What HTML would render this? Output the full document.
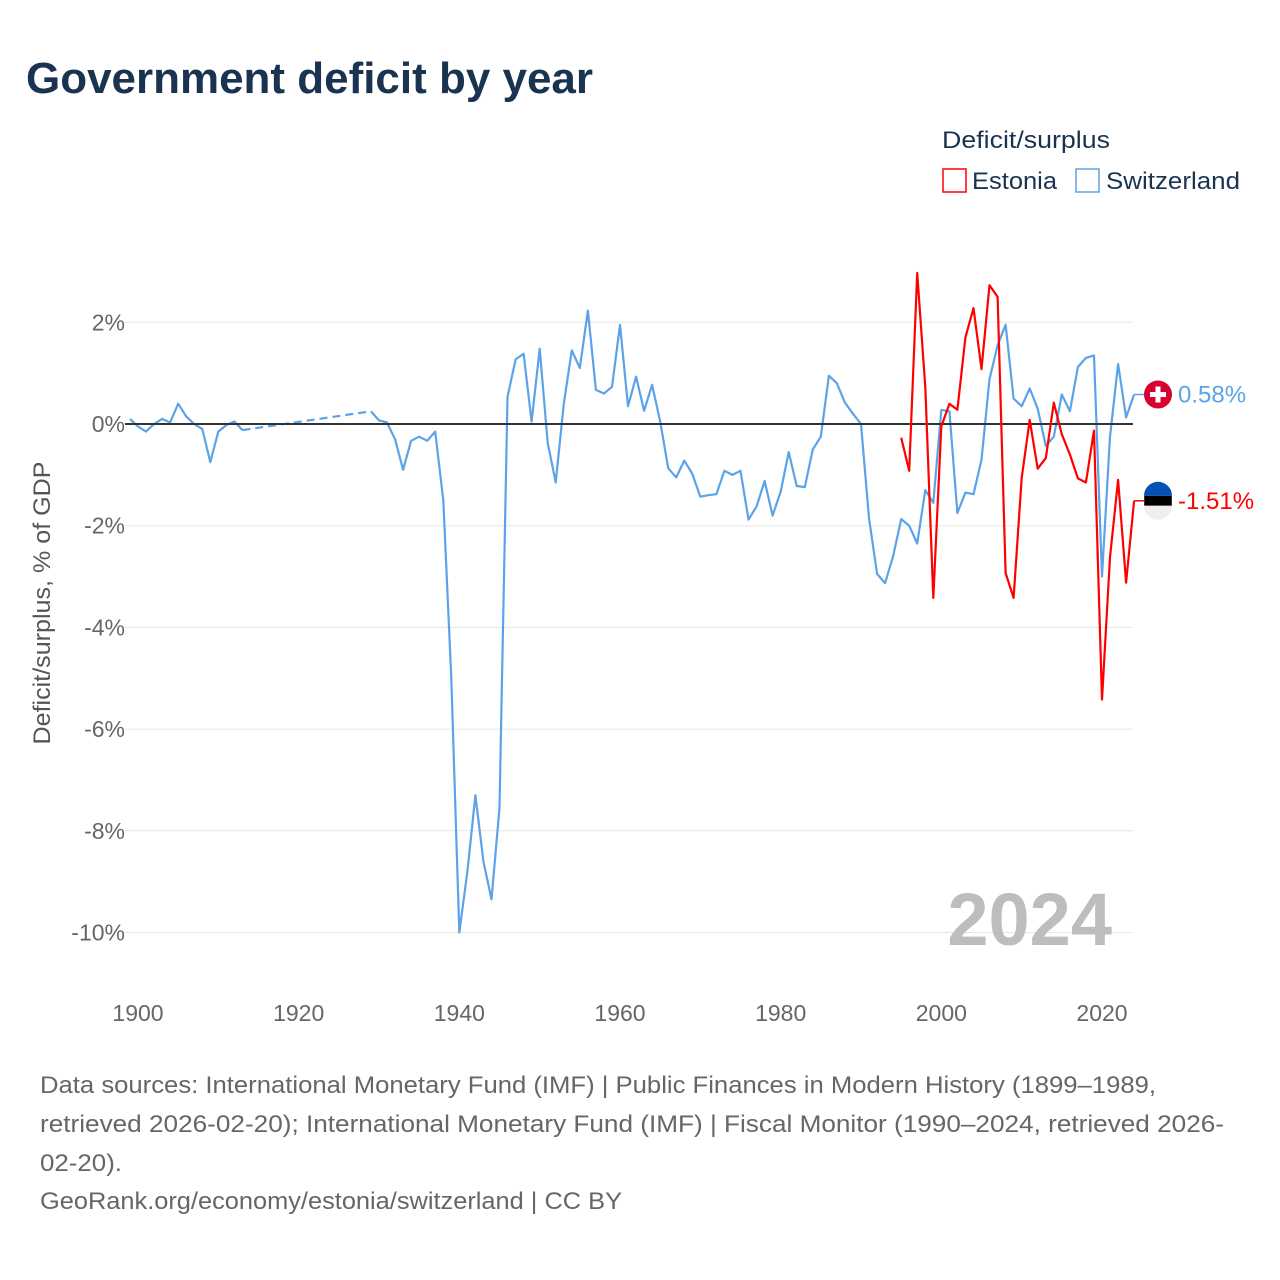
<!DOCTYPE html>
<html><head><meta charset="utf-8"><style>
body{margin:0;background:#fff}
svg{display:block;font-family:"Liberation Sans",sans-serif}
</style></head><body>
<svg id="chart" width="1280" height="1280" viewBox="0 0 1280 1280">
<text x="26" y="93" font-size="44" font-weight="bold" fill="#1a3350" textLength="567" lengthAdjust="spacingAndGlyphs">Government deficit by year</text>
<g>
<text x="942" y="148" font-size="24" fill="#1a3350" textLength="168" lengthAdjust="spacingAndGlyphs">Deficit/surplus</text>
<g><rect x="943" y="169" width="23" height="23" fill="none" stroke="#ff0000" stroke-width="1.5"/><text x="972" y="189" font-size="24" fill="#1a3350" textLength="85" lengthAdjust="spacingAndGlyphs">Estonia</text></g>
<g><rect x="1076" y="169" width="23" height="23" fill="none" stroke="#5ba3e8" stroke-width="1.5"/><text x="1106" y="189" font-size="24" fill="#1a3350" textLength="134" lengthAdjust="spacingAndGlyphs">Switzerland</text></g>
</g>
<g id="grid"></g>
<g id="yticks"></g>
<g id="xticks"></g>
<text transform="translate(50,603) rotate(-90)" text-anchor="middle" font-size="24" fill="#555" textLength="283" lengthAdjust="spacingAndGlyphs">Deficit/surplus, % of GDP</text>
<text x="1112" y="945" text-anchor="end" font-size="74" font-weight="bold" fill="#bdbdbd">2024</text>
<g id="series"></g>
<g font-size="24" fill="#666">
<text x="40" y="1093" textLength="1116" lengthAdjust="spacingAndGlyphs">Data sources: International Monetary Fund (IMF) | Public Finances in Modern History (1899–1989,</text>
<text x="40" y="1132" textLength="1184" lengthAdjust="spacingAndGlyphs">retrieved 2026-02-20); International Monetary Fund (IMF) | Fiscal Monitor (1990–2024, retrieved 2026-</text>
<text x="40" y="1171" textLength="82" lengthAdjust="spacingAndGlyphs">02-20).</text>
<text x="40" y="1209" textLength="582" lengthAdjust="spacingAndGlyphs">GeoRank.org/economy/estonia/switzerland | CC BY</text>
</g>
</svg>
<script>
const chYears1=[1899,1900,1901,1902,1903,1904,1905,1906,1907,1908,1909,1910,1911,1912,1913];
const chVals1=[0.1,-0.05,-0.15,0,0.1,0.03,0.4,0.15,0,-0.1,-0.75,-0.15,-0.02,0.05,-0.12];
const chYears2=[];for(let y=1929;y<=2024;y++)chYears2.push(y);
const chVals2=[0.25,0.07,0.03,-0.3,-0.9,-0.33,-0.25,-0.33,-0.15,-1.5,-5.0,-10.0,-8.8,-7.3,-8.6,-9.35,-7.55,0.53,1.27,1.38,0.05,1.48,-0.37,-1.15,0.4,1.45,1.1,2.23,0.67,0.6,0.73,1.95,0.35,0.93,0.26,0.77,0.05,-0.87,-1.05,-0.72,-0.98,-1.43,-1.4,-1.38,-0.92,-1.0,-0.92,-1.88,-1.62,-1.12,-1.8,-1.33,-0.55,-1.22,-1.24,-0.5,-0.25,0.95,0.8,0.42,0.2,0,-1.85,-2.95,-3.13,-2.6,-1.87,-2.0,-2.35,-1.3,-1.55,0.28,0.25,-1.75,-1.35,-1.38,-0.7,0.88,1.55,1.95,0.5,0.35,0.7,0.3,-0.43,-0.25,0.58,0.25,1.12,1.3,1.35,-3.0,-0.25,1.18,0.13,0.58];
const eeYears=[];for(let y=1995;y<=2024;y++)eeYears.push(y);
const eeVals=[-0.27,-0.92,2.97,0.73,-3.42,-0.05,0.4,0.28,1.7,2.28,1.08,2.73,2.5,-2.93,-3.42,-1.06,0.08,-0.88,-0.67,0.42,-0.2,-0.6,-1.07,-1.15,-0.13,-5.42,-2.62,-1.1,-3.12,-1.51];
const yTicks=[2,0,-2,-4,-6,-8,-10];
const yTickLabels=["2%","0%","-2%","-4%","-6%","-8%","-10%"];
const xTicks=[1900,1920,1940,1960,1980,2000,2020];
const NS="http://www.w3.org/2000/svg";
const X=y=>138+(y-1900)*(964/120);
const Y=v=>424-v*50.85;
function mk(tag,attrs,parent){const e=document.createElementNS(NS,tag);for(const k in attrs)e.setAttribute(k,attrs[k]);parent.appendChild(e);return e;}
const grid=document.getElementById('grid'),yt=document.getElementById('yticks'),xt=document.getElementById('xticks'),ser=document.getElementById('series');
yTicks.forEach((v,i)=>{
 if(v!==0){const l=mk('line',{x1:125,x2:1133,y1:Y(v),y2:Y(v),stroke:'#e6e6e6','stroke-width':1},grid);
 
 }
 const t=mk('text',{x:125,y:Y(v)+8,'text-anchor':'end','font-size':23,fill:'#666'},yt);
 t.textContent=yTickLabels[i];
 
 
});
xTicks.forEach(v=>{const t=mk('text',{x:X(v),y:1021,'text-anchor':'middle','font-size':23,fill:'#666'},xt);
 t.textContent=v;
 
 });
const pts=(ys,vs)=>ys.map((y,i)=>X(y).toFixed(1)+','+Y(vs[i]).toFixed(1)).join(' ');
let p=mk('polyline',{points:pts(chYears1,chVals1),fill:'none',stroke:'#5ba3e8','stroke-width':2.2,'stroke-linejoin':'round'},ser);


p=mk('polyline',{points:pts([chYears1[chYears1.length-1],chYears2[0]],[chVals1[chVals1.length-1],chVals2[0]]),fill:'none',stroke:'#5ba3e8','stroke-width':2.2,'stroke-dasharray':'8,5'},ser);


p=mk('polyline',{points:pts(chYears2,chVals2),fill:'none',stroke:'#5ba3e8','stroke-width':2.2,'stroke-linejoin':'round'},ser);


p=mk('line',{x1:125,x2:1133,y1:Y(0),y2:Y(0),stroke:'#333','stroke-width':2},ser);


p=mk('polyline',{points:pts(eeYears,eeVals),fill:'none',stroke:'#ff0000','stroke-width':2.2,'stroke-linejoin':'round'},ser);


const chLast=chVals2[chVals2.length-1],eeLast=eeVals[eeVals.length-1];
const xe=X(2024);
function endLabel(v,col,name,flag){
 const g=mk('g',{},ser);
 
 
 const y=Y(v);
 mk('line',{x1:xe,x2:1144,y1:y,y2:y,stroke:col,'stroke-width':1.5},g);
 flag(g,y);
 const t=mk('text',{x:1178,y:y+8,'font-size':24,fill:col},g);
 t.textContent=v.toFixed(2)+'%';
}
endLabel(chLast,'#5ba3e8','switzerland-end-label',(g,y)=>{
 mk('circle',{cx:1158,cy:y,r:14,fill:'#d8002f'},g);
 mk('rect',{x:1155.5,y:y-8,width:5,height:16,fill:'#fff'},g);
 mk('rect',{x:1150,y:y-2.5,width:16,height:5,fill:'#fff'},g);
});
endLabel(eeLast,'#ff0000','estonia-end-label',(g,y)=>{
 mk('path',{d:`M1144,${y-5} A14,14 0 0 1 1172,${y-5} Z`,fill:'#0052b4'},g);
 mk('rect',{x:1144.2,y:y-5,width:27.6,height:10,fill:'#000'},g);
 mk('path',{d:`M1144,${y+5} A14,14 0 0 0 1172,${y+5} Z`,fill:'#eee'},g);
});
</script>
</body></html>
